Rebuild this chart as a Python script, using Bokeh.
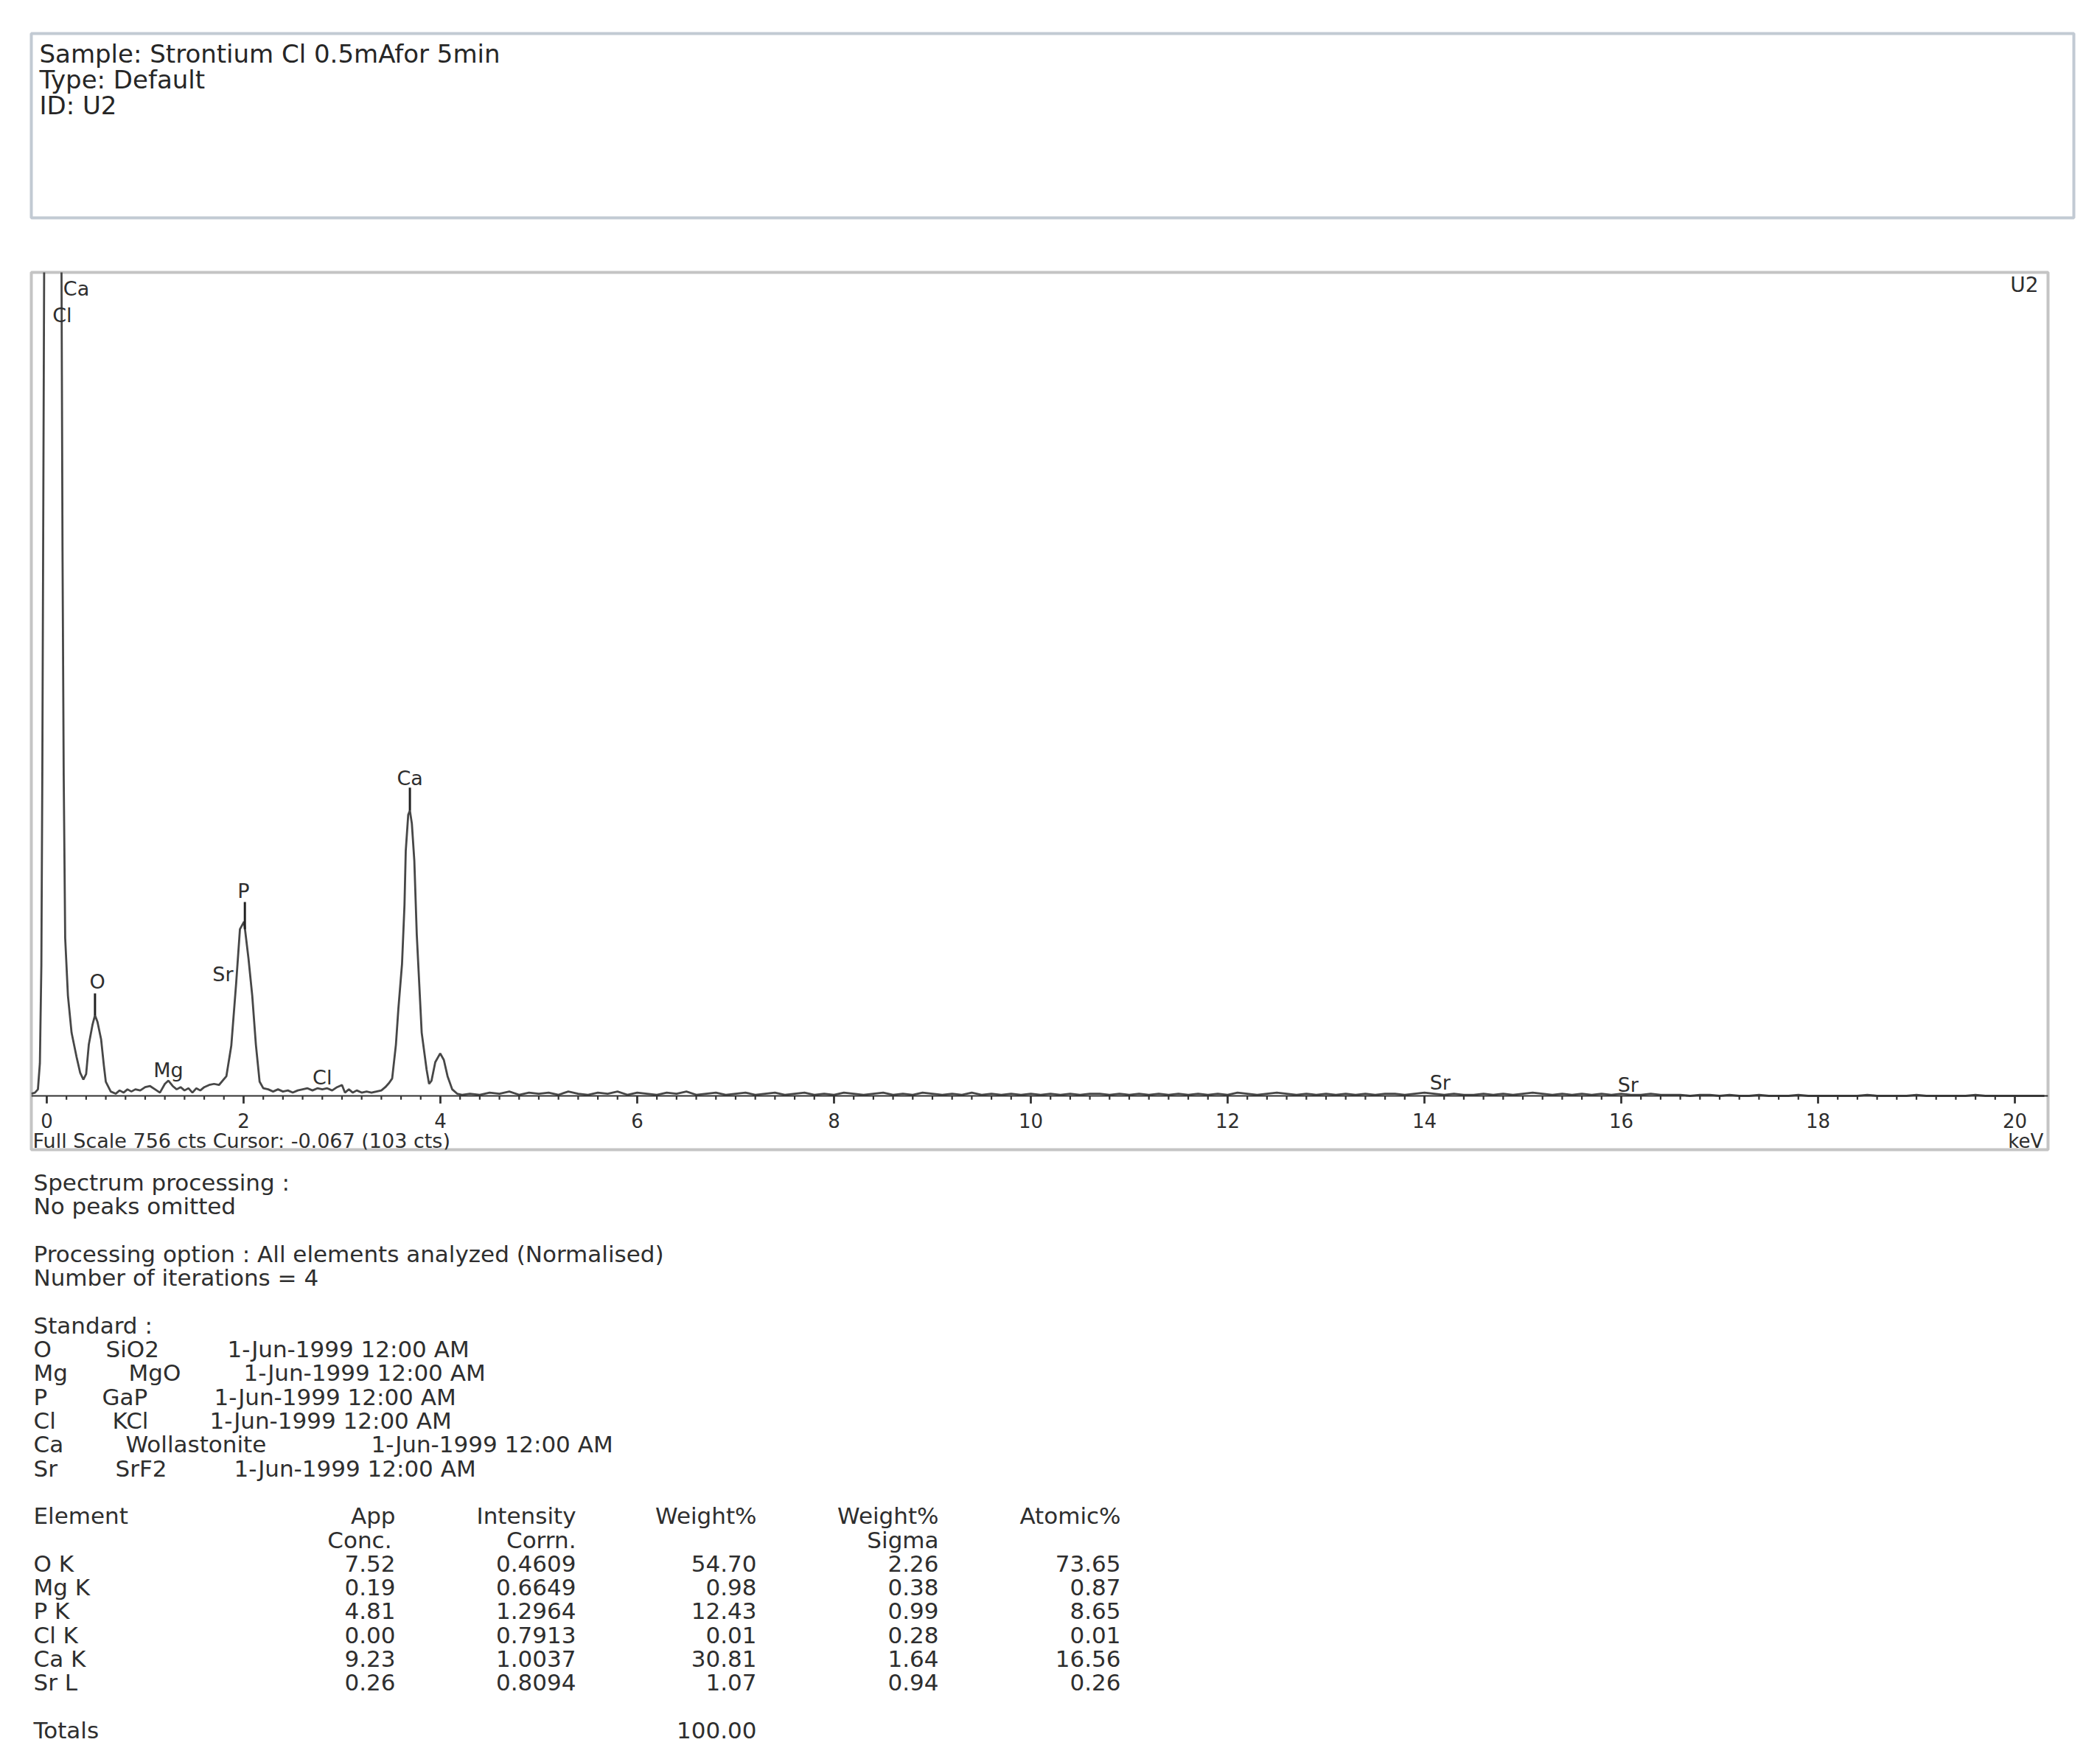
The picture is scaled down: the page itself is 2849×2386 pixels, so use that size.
from bokeh.plotting import figure
from bokeh.layouts import column
from bokeh.models import Range1d, Span
from bokeh.embed import file_html
from bokeh.resources import INLINE
from bokeh.core.properties import value

# ---------------- data ----------------
header_lines = ["Sample: Strontium Cl 0.5mAfor 5min", "Type: Default", "ID: U2"]

# hand-read spectrum (keV, counts) for the peak region 0 - 4.2 keV
spec_kev = [-0.157, -0.12, -0.09, -0.07, -0.055, -0.045, -0.035, -0.025, 0.02, 0.12,
            0.148, 0.16, 0.172, 0.187, 0.215, 0.252, 0.302, 0.34, 0.372, 0.40,
            0.427, 0.464, 0.49, 0.515, 0.552, 0.58, 0.60, 0.65, 0.70, 0.74,
            0.78, 0.82, 0.86, 0.90, 0.95, 1.00, 1.05, 1.10, 1.15, 1.20,
            1.236, 1.28, 1.32, 1.36, 1.40, 1.44, 1.48, 1.52, 1.56, 1.60,
            1.65, 1.70, 1.75, 1.825, 1.875, 1.925, 1.963, 2.005, 2.05, 2.088,
            2.125, 2.163, 2.20, 2.25, 2.30, 2.35, 2.40, 2.45, 2.50, 2.55,
            2.60, 2.65, 2.70, 2.75, 2.80, 2.85, 2.90, 2.95, 3.00, 3.03,
            3.07, 3.11, 3.15, 3.20, 3.25, 3.30, 3.35, 3.40, 3.44, 3.48,
            3.51, 3.548, 3.573, 3.61, 3.635, 3.648, 3.673, 3.69, 3.71, 3.735,
            3.76, 3.785, 3.81, 3.86, 3.885, 3.91, 3.948, 3.998, 4.035, 4.073,
            4.12, 4.17, 4.22]
spec_cts = [2, 3, 6, 30, 120, 300, 550, 800, 1400, 1300,
            800, 500, 295, 145, 92, 58, 36, 21, 15, 20,
            47, 65, 74, 68, 52, 28, 13, 4, 2, 5,
            3, 6, 4, 6, 5, 8, 9, 6, 3, 11,
            14, 9, 6, 8, 5, 7, 3, 7, 5, 8,
            10, 11, 10, 18, 46, 104, 153, 160, 126, 92,
            47, 13, 7, 6, 4, 6, 4, 5, 3, 5,
            6, 7, 5, 7, 6, 7, 5, 8, 10, 3,
            6, 3, 5, 3, 4, 3, 4, 5, 8, 12,
            16, 47, 80, 121, 175, 225, 258, 262, 250, 216,
            148, 103, 58, 24, 11, 14, 31, 39, 33, 18,
            6, 2, 1]

# baseline counts, one per 0.1 keV channel from 4.3 keV to 20.3 keV
noise_first_kev = 4.3
noise_step_kev = 0.1
noise_cts = [2, 1, 3, 2, 4, 1, 3, 2, 3, 1,
             4, 2, 1, 3, 2, 4, 1, 3, 2, 1,
             3, 2, 4, 1, 2, 3, 1, 2, 3, 1,
             2, 3, 1, 2, 3, 1, 2, 1, 3, 2,
             1, 2, 3, 1, 2, 1, 3, 2, 1, 2,
             1, 3, 1, 2, 1, 2, 1, 2, 1, 2,
             1, 2, 1, 2, 2, 1, 2, 1, 2, 1,
             2, 1, 2, 1, 2, 1, 2, 1, 3, 2,
             1, 2, 3, 2, 1, 2, 1, 2, 1, 2,
             1, 2, 1, 2, 2, 1, 2, 3, 2, 1,
             2, 1, 1, 2, 1, 2, 1, 2, 3, 2,
             1, 2, 1, 2, 1, 2, 1, 2, 1, 1,
             2, 1, 1, 1, 0, 1, 1, 0, 1, 0,
             0, 1, 0, 0, 0, 1, 0, 0, 0, 0,
             0, 0, 1, 0, 0, 0, 0, 1, 0, 0,
             0, 0, 0, 1, 0, 0, 0, 0, 0, 0, 0]

# element line markers
marker_kev = [0.49, 2.013, 3.69]
marker_low = [74, 153, 262]
marker_high = [94, 178, 283]

# peak labels (label centre in keV / counts)
peak_labels = ["Ca", "Cl", "O", "Mg", "Sr", "P", "Cl", "Ca", "Sr", "Sr"]
peak_label_kev = [0.30, 0.157, 0.514, 1.236, 1.79, 2.0, 2.80, 3.69, 14.16, 16.07]
peak_label_cts = [741, 717, 105, 24, 112, 188, 17, 292, 12, 10]

x_major_ticks = [0, 2, 4, 6, 8, 10, 12, 14, 16, 18, 20]
x_tick_labels = ["0", "2", "4", "6", "8", "10", "12", "14", "16", "18", "20"]
x_minor_step = 0.2

full_scale_text = "Full Scale 756 cts Cursor: -0.067  (103 cts)"
full_scale_cts = 756
unit_text = "keV"
spectrum_id = "U2"

info_lines = ["Spectrum processing :", "No peaks omitted", "",
              "Processing option : All elements analyzed (Normalised)",
              "Number of iterations = 4", "", "Standard :"]
std_elements = ["O", "Mg", "P", "Cl", "Ca", "Sr"]
std_names = ["SiO2", "MgO", "GaP", "KCl", "Wollastonite", "SrF2"]
std_dates = ["1-Jun-1999 12:00 AM"] * 6

table_head1 = ["App", "Intensity", "Weight%", "Weight%", "Atomic%"]
table_head2 = ["Conc.", "Corrn.", "", "Sigma", ""]
elements = ["O K", "Mg K", "P K", "Cl K", "Ca K", "Sr L"]
app_conc = [7.52, 0.19, 4.81, 0.00, 9.23, 0.26]
intensity_corrn = [0.4609, 0.6649, 1.2964, 0.7913, 1.0037, 0.8094]
weight_pct = [54.70, 0.98, 12.43, 0.01, 30.81, 1.07]
weight_sigma = [2.26, 0.38, 0.99, 0.28, 1.64, 0.94]
atomic_pct = [73.65, 0.87, 8.65, 0.01, 16.56, 0.26]
weight_total = 100.00

# ---------------- styles / layout ----------------
FONT = value("DejaVu Sans")
TXT = "#2e2e2e"
W = 2833


def bare(p):
    p.xgrid.visible = False
    p.ygrid.visible = False
    p.background_fill_color = "white"
    p.border_fill_color = "white"
    return p


# header box (frame = the box, page px coordinates)
head = figure(width=W, height=338, x_range=Range1d(42, 2813), y_range=Range1d(295, 45),
              output_backend="svg", toolbar_location=None, frame_align=False,
              x_axis_location=None, y_axis_location=None,
              min_border_left=42, min_border_right=20, min_border_top=45, min_border_bottom=43)
bare(head)
head.outline_line_color = "#c2cad3"
head.outline_line_width = 4
head.text(x=[53] * len(header_lines), y=[72 + 35 * i for i in range(len(header_lines))],
          text=header_lines, text_font=FONT, text_font_size="34px", text_color="#262626",
          text_align="left", text_baseline="middle")

# spectrum
spec = figure(width=W, height=1242, x_range=Range1d(-0.157, 20.337),
              y_range=Range1d(-49.4, full_scale_cts),
              output_backend="svg", toolbar_location=None, frame_align=False,
              x_axis_location=None, y_axis_location=None,
              min_border_left=42, min_border_right=55, min_border_top=31, min_border_bottom=21)
bare(spec)
spec.outline_line_color = "#c4c4c4"
spec.outline_line_width = 4

all_kev = spec_kev + [round(noise_first_kev + noise_step_kev * i, 2) for i in range(len(noise_cts))]
all_cts = spec_cts + noise_cts
spec.line(all_kev, all_cts, line_color="#474747", line_width=2.8)

spec.add_layout(Span(location=0, dimension="width", line_color="#333333", line_width=2))

minor = [round(x_minor_step * i, 1) for i in range(int(20.2 / x_minor_step) + 1)]
minor = [m for m in minor if m not in x_major_ticks]
spec.segment(x0=minor, y0=[0] * len(minor), x1=minor, y1=[-3.5] * len(minor),
             line_color="#333333", line_width=2.2)
spec.segment(x0=x_major_ticks, y0=[0] * len(x_major_ticks), x1=x_major_ticks,
             y1=[-7] * len(x_major_ticks), line_color="#333333", line_width=2.8)
spec.text(x=x_major_ticks, y=[-23] * len(x_major_ticks), text=x_tick_labels,
          text_font=FONT, text_font_size="26px", text_color=TXT,
          text_align="center", text_baseline="middle")

spec.segment(x0=marker_kev, y0=marker_low, x1=marker_kev, y1=marker_high,
             line_color="#222222", line_width=3)
spec.text(x=peak_label_kev, y=peak_label_cts, text=peak_labels, text_font=FONT,
          text_font_size="27px", text_color=TXT, text_align="center",
          text_baseline="middle")

spec.text(x=[-0.142], y=[-41], text=[full_scale_text], text_font=FONT,
          text_font_size="27px", text_color=TXT, text_align="left", text_baseline="middle")
spec.text(x=[20.29], y=[-41.6], text=[unit_text], text_font=FONT,
          text_font_size="26px", text_color=TXT, text_align="right", text_baseline="middle")
spec.text(x=[20.24], y=[744.5], text=[spectrum_id], text_font=FONT,
          text_font_size="28px", text_color=TXT, text_align="right", text_baseline="middle")

# text block below (page px coordinates)
txt = figure(width=W, height=796, x_range=Range1d(0, 2833), y_range=Range1d(2376, 1580),
             output_backend="svg", toolbar_location=None, frame_align=False,
             x_axis_location=None, y_axis_location=None,
             min_border=0, min_border_left=0, min_border_right=0,
             min_border_top=0, min_border_bottom=0)
bare(txt)
txt.outline_line_color = None

LINE0 = 1603.5
LH = 32.3
FS = "31px"
LEFT = 45


def put(xs, ks, texts, align="left"):
    txt.text(x=xs, y=[LINE0 + LH * k for k in ks], text=texts, text_font=FONT,
             text_font_size=FS, text_color=TXT, text_align=align, text_baseline="middle")


rows = [k for k, s in enumerate(info_lines) if s]
put([LEFT] * len(rows), rows, [info_lines[k] for k in rows])

std_k = [7 + i for i in range(len(std_elements))]
std_name_x = [143, 174, 138, 152, 170, 156]
std_date_x = [308, 330, 290, 284, 503, 317]
put([LEFT] * len(std_k), std_k, std_elements)
put(std_name_x, std_k, std_names)
put(std_date_x, std_k, std_dates)

col_right = [536, 781, 1026, 1273, 1520]
put([LEFT], [14], ["Element"])
put(col_right, [14] * 5, table_head1, "right")
h2 = [(x, t) for x, t in zip([531, 781, 1026, 1273, 1520], table_head2) if t]
put([x for x, _ in h2], [15] * len(h2), [t for _, t in h2], "right")

row_k = [16 + i for i in range(len(elements))]
put([LEFT] * len(row_k), row_k, elements)
put([col_right[0]] * len(row_k), row_k, [f"{v:.2f}" for v in app_conc], "right")
put([col_right[1]] * len(row_k), row_k, [f"{v:.4f}" for v in intensity_corrn], "right")
put([col_right[2]] * len(row_k), row_k, [f"{v:.2f}" for v in weight_pct], "right")
put([col_right[3]] * len(row_k), row_k, [f"{v:.2f}" for v in weight_sigma], "right")
put([col_right[4]] * len(row_k), row_k, [f"{v:.2f}" for v in atomic_pct], "right")

put([LEFT], [23], ["Totals"])
put([col_right[2]], [23], [f"{weight_total:.2f}"], "right")

layout = column(head, spec, txt)
open("out.html", "w").write(file_html(layout, INLINE))
